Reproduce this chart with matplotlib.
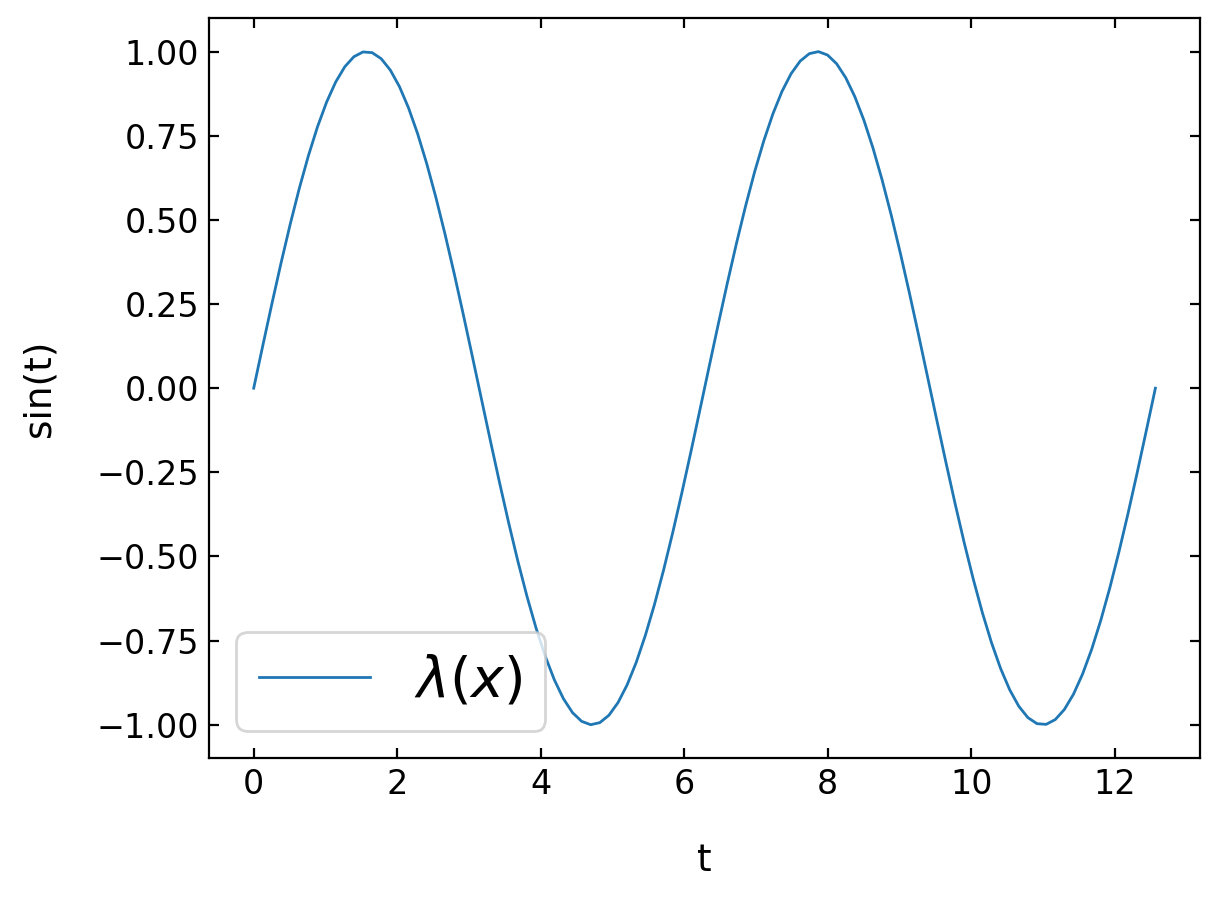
import numpy as np
import matplotlib
matplotlib.use("Agg")
import matplotlib.pyplot as plt

# sample grid: 100 evenly spaced points from 0 to 4*pi
t_start, t_end, n_points = 0.0, 4 * np.pi, 100
t = np.linspace(t_start, t_end, n_points)

# curve values
y_first_half = [
    0.0000, 0.1266, 0.2511, 0.3717, 0.4862, 0.5929, 0.6901, 0.7762, 0.8497, 0.9096,
    0.9549, 0.9848, 0.9989, 0.9968, 0.9788, 0.9450, 0.8960, 0.8326, 0.7557, 0.6668,
    0.5670, 0.4582, 0.3420, 0.2203, 0.0951, -0.0317, -0.1580, -0.2817, -0.4009, -0.5137,
    -0.6182, -0.7127, -0.7958, -0.8660, -0.9224, -0.9639, -0.9898, -0.9999, -0.9938, -0.9718,
    -0.9342, -0.8815, -0.8146, -0.7345, -0.6428, -0.5406, -0.4298, -0.3120, -0.1893, -0.0634,
]
y_second_half = [
    0.0634, 0.1893, 0.3120, 0.4298, 0.5406, 0.6428, 0.7345, 0.8146, 0.8815, 0.9342,
    0.9718, 0.9938, 0.9999, 0.9898, 0.9639, 0.9224, 0.8660, 0.7958, 0.7127, 0.6182,
    0.5137, 0.4009, 0.2817, 0.1580, 0.0317, -0.0951, -0.2203, -0.3420, -0.4582, -0.5670,
    -0.6668, -0.7557, -0.8326, -0.8960, -0.9450, -0.9788, -0.9968, -0.9989, -0.9848, -0.9549,
    -0.9096, -0.8497, -0.7762, -0.6901, -0.5929, -0.4862, -0.3717, -0.2511, -0.1266, 0.0000,
]
y = y_first_half + y_second_half

series_label = r"$\lambda(x)$"
x_label = "t"
y_label = "sin(t)"

fig = plt.figure(figsize=(6.1, 4.49), dpi=200)
ax = fig.add_axes([0.171, 0.1555, 0.813, 0.8245])
ax.plot(t, y, color="#1f77b4", linewidth=1.0, label=series_label)

ax.tick_params(direction="in", top=True, right=True, labelsize=12, length=3.5, width=0.8)
ax.set_yticks([-1.0, -0.75, -0.5, -0.25, 0.0, 0.25, 0.5, 0.75, 1.0])
ax.set_xlabel(x_label, fontsize=13.5, labelpad=15)
ax.set_ylabel(y_label, fontsize=13.5, labelpad=14)
ax.legend(loc="lower left", fontsize=20)

fig.savefig("out.png", dpi=200)
